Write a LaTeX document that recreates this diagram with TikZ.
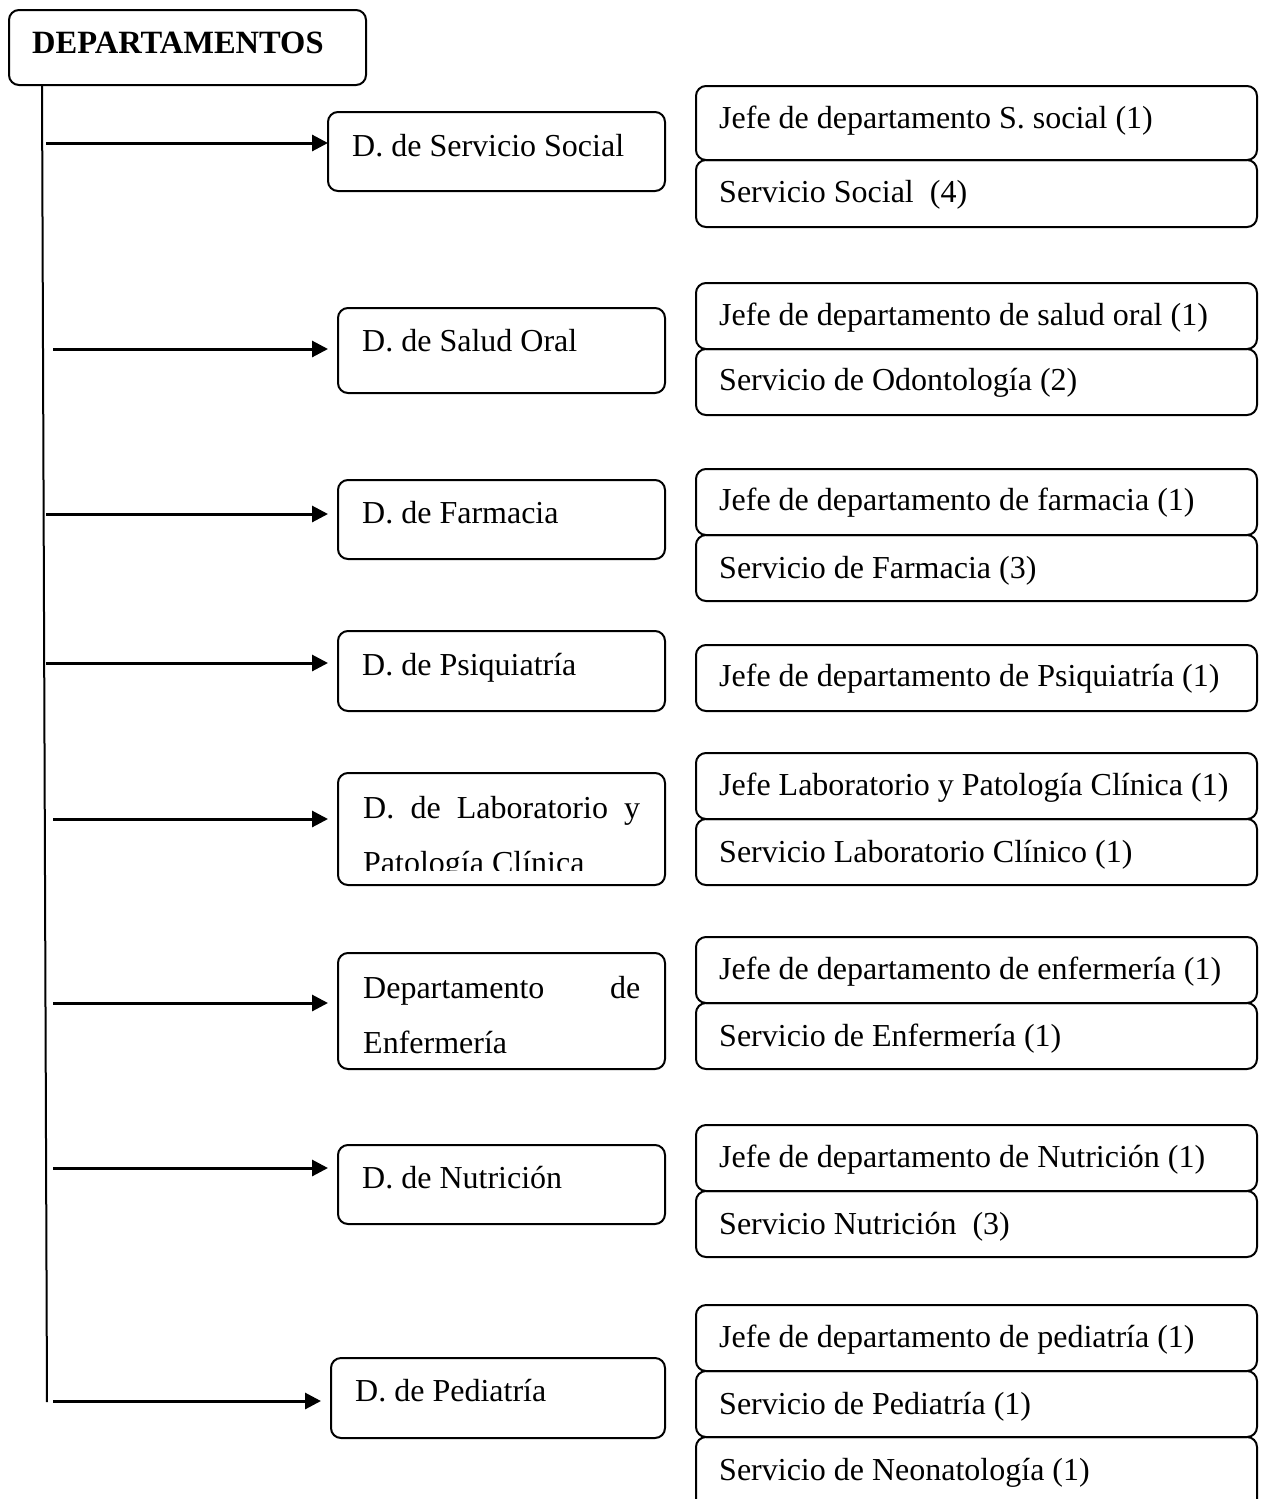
\documentclass[tikz,border=0pt]{standalone}
\usepackage{fontspec}
\setmainfont{Liberation Serif}
\usetikzlibrary{arrows.meta}
\newcommand\rbox[5]{\node[box, minimum width={#4pt-#2pt}, minimum height={#5pt-#3pt}] (#1) at (#2,#3) {};}
\begin{document}
\begin{tikzpicture}[x=1pt,y=-1pt,
  box/.style={draw, line width=2pt, rounded corners=10pt, inner sep=0pt, outer sep=0pt, anchor=north west},
  lbl/.style={anchor=base west, inner sep=0pt, font=\fontsize{32}{38}\selectfont},
  conn/.style={line width=3pt, -{Triangle[length=16pt,width=16pt]}},
  vline/.style={line width=2pt},
]
\useasboundingbox (0,0) rectangle (1264,1499);

% header
\rbox{dep}{9}{10}{366}{85}
\node[lbl, font=\fontsize{32.5}{38}\selectfont\bfseries] (dept) at (32,53) {DEPARTAMENTOS};

% department boxes
\rbox{d1}{328}{112}{665}{191}
\node[lbl] (d1t) at (352,156) {D. de Servicio Social};
\rbox{d2}{338}{308}{665}{393}
\node[lbl] (d2t) at (362,351) {D. de Salud Oral};
\rbox{d3}{338}{480}{665}{559}
\node[lbl] (d3t) at (362,523) {D. de Farmacia};
\rbox{d4}{338}{631}{665}{711}
\node[lbl] (d4t) at (362,675) {D. de Psiquiatría};
\rbox{d5}{338}{773}{665}{885}
\node[lbl] (d5t) at (363,818) {\makebox[277pt][l]{D.\hfill de\hfill Laboratorio\hfill y}};
\begin{scope}
  \clip (338,773) rectangle (665,870);
  \node[lbl] (d5u) at (363,873) {Patología Clínica};
\end{scope}
\rbox{d6}{338}{953}{665}{1069}
\node[lbl] (d6t) at (363,998) {\makebox[277pt][l]{Departamento\hfill de}};
\node[lbl] (d6u) at (363,1053) {Enfermería};
\rbox{d7}{338}{1145}{665}{1224}
\node[lbl] (d7t) at (362,1188) {D. de Nutrición};
\rbox{d8}{331}{1358}{665}{1438}
\node[lbl] (d8t) at (355,1401) {D. de Pediatría};

% right column
\rbox{r1a}{696}{86}{1257}{160}
\node[lbl] (r1at) at (719,128) {Jefe de departamento S. social (1)};
\rbox{r1b}{696}{160}{1257}{227}
\node[lbl] (r1bt) at (719,202) {Servicio Social\ \ (4)};

\rbox{r2a}{696}{283}{1257}{349}
\node[lbl] (r2at) at (719,325) {Jefe de departamento de salud oral (1)};
\rbox{r2b}{696}{349}{1257}{415}
\node[lbl] (r2bt) at (719,390) {Servicio de Odontología (2)};

\rbox{r3a}{696}{469}{1257}{535}
\node[lbl] (r3at) at (719,510) {Jefe de departamento de farmacia (1)};
\rbox{r3b}{696}{535}{1257}{601}
\node[lbl] (r3bt) at (719,578) {Servicio de Farmacia (3)};

\rbox{r4a}{696}{645}{1257}{711}
\node[lbl] (r4at) at (719,686) {Jefe de departamento de Psiquiatría (1)};

\rbox{r5a}{696}{753}{1257}{819}
\node[lbl] (r5at) at (719,795) {Jefe Laboratorio y Patología Clínica (1)};
\rbox{r5b}{696}{819}{1257}{885}
\node[lbl] (r5bt) at (719,862) {Servicio Laboratorio Clínico (1)};

\rbox{r6a}{696}{937}{1257}{1003}
\node[lbl] (r6at) at (719,979) {Jefe de departamento de enfermería (1)};
\rbox{r6b}{696}{1003}{1257}{1069}
\node[lbl] (r6bt) at (719,1046) {Servicio de Enfermería (1)};

\rbox{r7a}{696}{1125}{1257}{1191}
\node[lbl] (r7at) at (719,1167) {Jefe de departamento de Nutrición (1)};
\rbox{r7b}{696}{1191}{1257}{1257}
\node[lbl] (r7bt) at (719,1234) {Servicio Nutrición\ \ (3)};

\rbox{r8a}{696}{1305}{1257}{1371}
\node[lbl] (r8at) at (719,1347) {Jefe de departamento de pediatría (1)};
\rbox{r8b}{696}{1371}{1257}{1437}
\node[lbl] (r8bt) at (719,1414) {Servicio de Pediatría (1)};
\rbox{r8c}{696}{1437}{1257}{1530}
\node[lbl] (r8ct) at (719,1480) {Servicio de Neonatología (1)};

% trunk
\coordinate (vtop) at (42,85);
\coordinate (vbot) at (47,1402);
\draw[vline] (vtop) -- (vbot);

% arrows
\coordinate (s1) at (46,143);
\coordinate (s2) at (53,349);
\coordinate (s3) at (46,514);
\coordinate (s4) at (46,663);
\coordinate (s5) at (53,819);
\coordinate (s6) at (53,1003);
\coordinate (s7) at (53,1168);
\coordinate (s8) at (53,1401);
\draw[conn] (s1) -- (s1 -| d1.west);
\draw[conn, shorten >=10pt] (s2) -- (s2 -| d2.west);
\draw[conn, shorten >=10pt] (s3) -- (s3 -| d3.west);
\draw[conn, shorten >=10pt] (s4) -- (s4 -| d4.west);
\draw[conn, shorten >=10pt] (s5) -- (s5 -| d5.west);
\draw[conn, shorten >=10pt] (s6) -- (s6 -| d6.west);
\draw[conn, shorten >=10pt] (s7) -- (s7 -| d7.west);
\draw[conn, shorten >=10pt] (s8) -- (s8 -| d8.west);
\end{tikzpicture}
\end{document}
